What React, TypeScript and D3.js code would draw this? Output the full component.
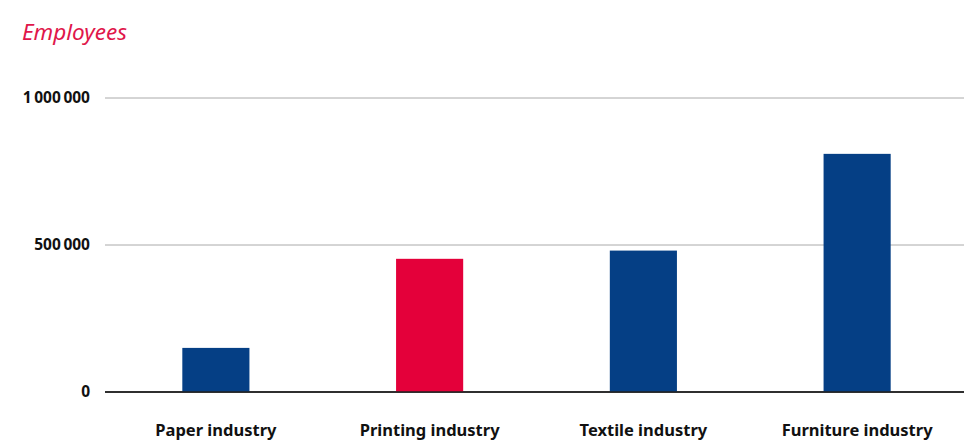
import React from "react";
import * as d3 from "d3";

const categories = ["Paper industry", "Printing industry", "Textile industry", "Furniture industry"];
const values = [150000, 453000, 481000, 810000];
const highlighted = ["Printing industry"];
const tickValues = [0, 500000, 1000000];

const W = 971, H = 442;
const margin = { left: 109, right: 7, top: 98, bottom: 50 };
const gridLeft = 105;

const locale = d3.formatLocale({ decimal: ".", thousands: "\u2009", grouping: [3], currency: ["", ""] });
const fmt = locale.format(",d");

export default function App() {
  const x = d3.scaleBand<string>()
    .domain(categories)
    .range([margin.left, W - margin.right])
    .paddingInner(0.686)
    .paddingOuter(0.343);
  const y = d3.scaleLinear().domain([0, 1000000]).range([H - margin.bottom, margin.top]);
  const font = "'Noto Sans', 'Open Sans', sans-serif";
  return (
    <svg width={W} height={H} style={{ position: "absolute", left: 0, top: 0, background: "#fff" }}>
      <text x={22} y={40} fill="#e0164a" fontFamily={font} fontStyle="italic" fontSize={22.5}>Employees</text>
      {tickValues.map((t) => (
        <g key={t}>
          <line x1={gridLeft} x2={W - margin.right} y1={y(t)} y2={y(t)}
            stroke={t === 0 ? "#222" : "#aaa"} strokeWidth={t === 0 ? 1.5 : 1} />
          <text x={90} y={y(t)} dy="0.35em" textAnchor="end" fontFamily={font} fontWeight="bold" fontSize={15.5} fill="#111">{fmt(t)}</text>
        </g>
      ))}
      {categories.map((c, i) => (
        <rect key={c} x={x(c)} width={x.bandwidth()} y={y(values[i])} height={y(0) - y(values[i])}
          fill={highlighted.includes(c) ? "#e4003a" : "#053f85"} />
      ))}
      <line x1={gridLeft} x2={W - margin.right} y1={y(0)} y2={y(0)} stroke="#222" strokeWidth={1.5} />
      {categories.map((c) => (
        <text key={c} x={(x(c) as number) + x.bandwidth() / 2} y={430} dy="0.35em" textAnchor="middle"
          fontFamily={font} fontWeight="bold" fontSize={16.5} fill="#111">{c}</text>
      ))}
    </svg>
  );
}
